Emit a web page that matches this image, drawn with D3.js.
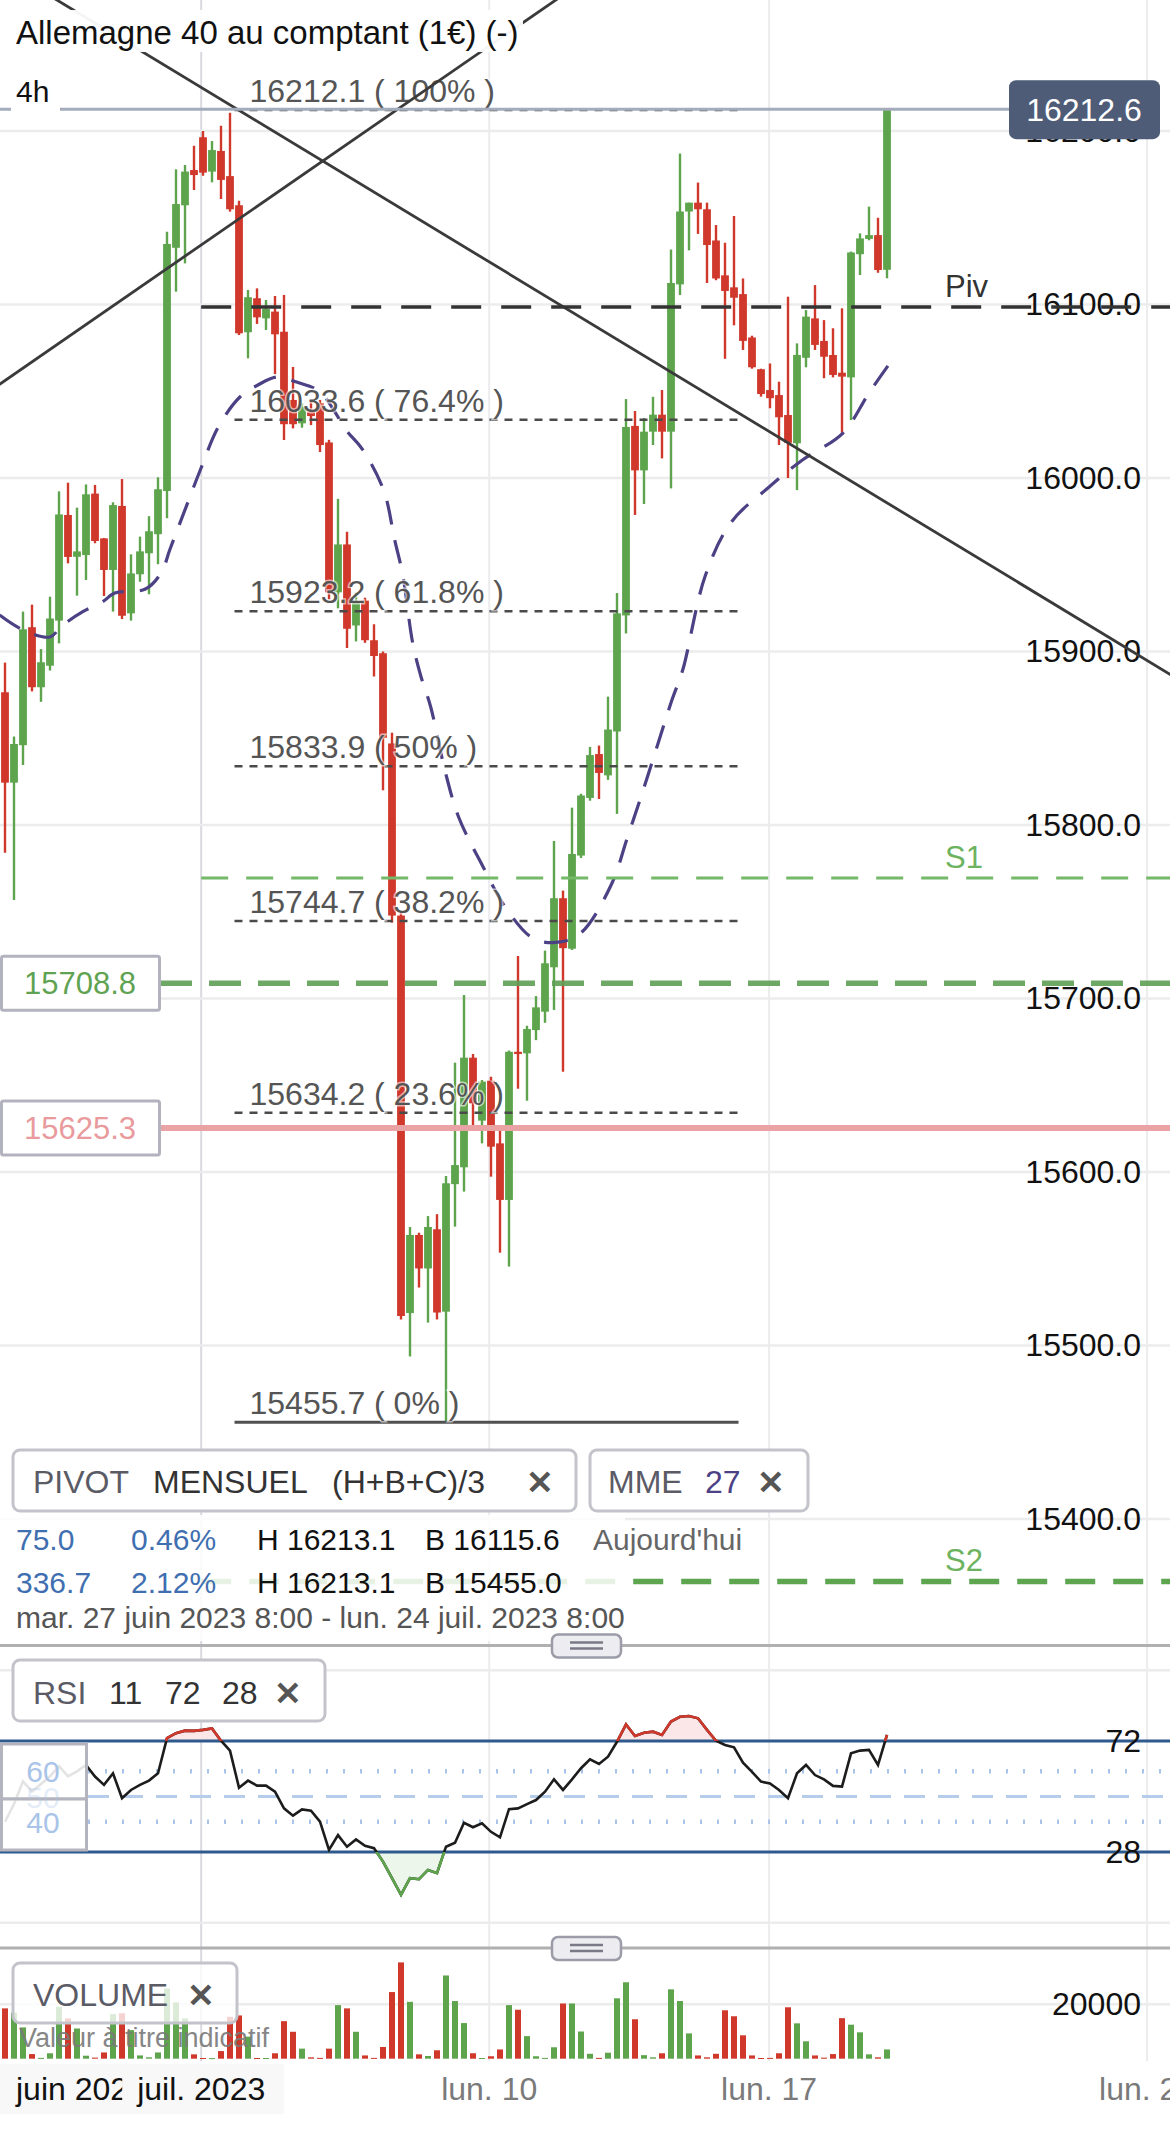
<!DOCTYPE html>
<html>
<head>
<meta charset="utf-8">
<script src="https://cdn.jsdelivr.net/npm/d3@7"></script>
<style>
  body { margin: 0; background: #fff; }
  svg { display: block; }
  text { font-family: "Liberation Sans", Arial, Helvetica, sans-serif; }
</style>
</head>
<body>
<svg id="chart" width="1170" height="2133"></svg>
<script>
// ---- data (bar index = one 4h candle) ----
const ohlc = [
  [15876.5,15893.6,15784.0,15824.4],[15824.4,15851.0,15756.8,15846.7],[15846.0,15923.0,15834.6,15912.8],
  [15914.0,15927.0,15877.0,15879.4],[15879.4,15901.4,15871.0,15893.8],[15891.8,15931.6,15889.0,15919.0],
  [15917.8,15992.3,15904.7,15979.0],[15978.7,15997.3,15950.8,15954.5],[15954.6,15982.9,15932.2,15957.7],
  [15955.6,15996.3,15941.2,15990.6],[15991.0,15996.0,15962.4,15963.7],[15965.2,15965.4,15932.0,15947.0],
  [15947.0,15986.0,15923.0,15984.4],[15983.9,15999.4,15918.7,15920.6],[15922.0,15956.0,15917.8,15945.0],
  [15944.5,15966.2,15940.2,15957.7],[15956.6,15978.0,15933.0,15969.3],[15967.6,16000.4,15950.3,15993.5],
  [15992.5,16142.0,15976.8,16134.9],[16132.7,16177.9,16107.4,16157.9],[16157.2,16180.4,16123.7,16176.6],
  [16177.5,16191.5,16166.0,16174.6],[16196.4,16200.0,16174.2,16176.0],[16176.6,16194.2,16170.4,16189.0],
  [16188.5,16203.0,16160.8,16171.8],[16174.0,16210.5,16153.5,16154.9],[16157.2,16159.8,16082.4,16083.4],
  [16084.0,16108.4,16069.0,16104.2],[16103.6,16109.3,16088.8,16092.6],[16092.0,16102.6,16085.3,16097.4],
  [16095.9,16104.9,16059.9,16082.8],[16084.3,16105.5,16021.9,16031.0],[16045.0,16064.0,16028.6,16031.0],
  [16031.5,16043.0,16029.0,16041.0],[16038.2,16045.0,16030.5,16035.7],[16043.0,16045.0,16015.0,16019.0],
  [16020.5,16022.0,15930.0,15934.1],[15934.1,15988.0,15924.9,15961.7],[15961.7,15969.0,15902.0,15913.1],
  [15915.0,15934.0,15905.8,15928.5],[15929.3,15931.0,15905.0,15906.5],[15906.5,15915.7,15885.6,15897.4],
  [15899.0,15900.0,15820.0,15850.3],[15847.0,15853.2,15743.7,15747.8],[15747.8,15750.0,15515.0,15517.0],
  [15518.7,15568.3,15493.7,15563.7],[15563.7,15565.0,15533.4,15544.4],[15544.4,15574.6,15513.2,15568.3],
  [15567.0,15575.7,15515.0,15519.0],[15519.5,15597.7,15455.7,15593.5],[15593.0,15663.0,15568.5,15604.0],
  [15602.7,15702.0,15588.7,15665.9],[15665.9,15668.0,15624.2,15639.6],[15629.6,15653.0,15616.5,15652.1],
  [15652.6,15654.9,15597.3,15614.6],[15616.5,15623.8,15553.5,15583.9],[15583.9,15670.0,15545.5,15669.3],
  [15669.3,15724.5,15648.0,15668.0],[15668.4,15684.3,15641.1,15682.4],[15681.8,15701.4,15676.0,15694.9],
  [15692.4,15727.6,15686.0,15720.3],[15718.0,15790.8,15693.4,15757.8],[15757.8,15762.2,15657.8,15729.0],
  [15728.7,15810.0,15728.0,15783.3],[15782.4,15818.0,15781.0,15817.0],[15815.6,15845.0,15814.0,15840.3],
  [15840.9,15845.8,15815.0,15830.0],[15828.6,15874.0,15826.0,15855.0],[15853.9,15933.7,15806.4,15922.0],
  [15920.8,16045.5,15910.4,16029.4],[16030.0,16038.6,15978.7,16004.4],[16004.4,16034.6,15985.0,16026.7],
  [16026.7,16046.8,16019.0,16036.5],[16036.5,16050.7,16011.3,16026.7],[16026.7,16131.7,15994.0,16112.4],
  [16111.6,16187.0,16105.5,16153.6],[16153.6,16158.7,16131.2,16158.7],[16158.7,16170.3,16140.7,16154.9],
  [16154.9,16158.7,16112.4,16134.3],[16136.9,16145.8,16114.0,16115.0],[16116.8,16135.6,16068.7,16107.8],
  [16109.9,16151.0,16088.0,16103.9],[16106.0,16115.0,16073.8,16079.0],[16081.0,16082.0,16063.0,16063.8],
  [16062.7,16063.0,16046.9,16048.4],[16050.7,16066.0,16040.2,16046.0],[16047.8,16055.5,16019.0,16035.0],
  [16036.3,16104.5,16000.0,16020.3],[16020.0,16077.6,15993.0,16070.9],[16069.3,16096.8,16063.8,16093.0],
  [16092.0,16111.2,16073.8,16076.7],[16079.0,16091.0,16057.5,16069.9],[16070.9,16086.3,16058.0,16059.4],
  [16060.7,16097.8,16026.1,16058.4],[16058.0,16130.5,16033.4,16130.0],[16129.0,16141.0,16117.0,16138.1],
  [16137.8,16156.4,16137.0,16140.0],[16140.0,16150.0,16118.3,16119.9],[16120.0,16212.6,16115.1,16212.6]
];

const volumes = [
  18500,16900,11500,1700,300,2000,19100,14800,11100,1100,400,2300,16400,16700,10500,1200,500,2300,
  25800,20700,14800,1600,250,200,2800,15400,15900,8100,250,250,2000,13800,9900,3700,500,300,3700,
  19700,18500,9900,1200,300,4300,24500,35400,20900,1600,1000,3100,30600,21200,13100,2000,250,900,
  3400,19700,18000,8300,900,300,4200,20300,20300,10000,1800,300,2200,22200,28100,14500,1300,500,
  2000,25500,21200,9300,1200,500,1800,17800,15600,8600,1200,250,300,2000,18900,13000,6400,1200,400,
  1700,14900,12500,9700,1600,500,3400
];

const rsiValues = [
  40,47,56,52,55,58,62,58,60,62.5,57.9,54.6,59.2,49.3,52.6,54.6,56.3,59.2,73.1,75.1,76.1,76,76.4,77,
  72.1,68.2,53.5,56.3,54.3,54.3,51.9,45.3,42.4,44.9,44.4,40,28.8,34.7,30.1,33,30.5,29.5,24.2,17.6,11,
  17.6,17.2,20.9,19.6,30.1,31.7,39.6,37.8,39.4,36,33.8,45,45.3,47,48.6,51.9,56.8,52.6,56.8,61.2,64.7,
  62.9,65.8,71.7,78.6,74,75.3,75.7,74.4,79.7,81.6,81.9,81,76.4,72.1,70.4,69.5,63.4,59.8,55.9,55.2,
  52.6,49.3,59.2,62.5,58.5,56.8,54.2,53.9,67.1,68.2,68.5,62.5,74.4
];

// MME 27, traced as [bar index, price]
const emaPoints = [
  [-0.6,15921],[2,15912.4],[5,15908.4],[6.3,15914.7],[8.6,15922.8],[10.8,15928.5],[12.2,15933.7],
  [15.6,15936],[17.4,15945.8],[18.3,15958.5],[20.2,15984.4],[21.7,16004.6],[23.7,16029.4],[26.1,16046.7],
  [28.1,16053.6],[30.2,16058.2],[32.4,16055.3],[35,16049.6],[38,16027],[39.7,16016.7],[42.1,15992.5],
  [43.3,15964.3],[44.2,15944],[45.3,15904.9],[46.2,15885.9],[47.3,15868],[48.9,15831.1],[50.4,15804.6],
  [52.9,15778.1],[55.8,15751],[58.8,15734.3],[61.7,15732.6],[64.1,15738.3],[67.4,15766],[69.1,15791.9],
  [70.8,15818.4],[72.4,15844.4],[74.1,15872],[75.3,15889.3],[77.8,15943.5],[80.7,15974.6],[84.9,15994.8],
  [88.6,16010.4],[93.1,16025.9],[96,16049],[98.1,16064.6]
];

const priceTicks = [15400, 15500, 15600, 15700, 15800, 15900, 16000, 16100, 16200];
const fibLevels = [16212.1, 16033.6, 15923.2, 15833.9, 15744.7, 15634.2, 15455.7];
const fibPercents = ["100%", "76.4%", "61.8%", "50%", "38.2%", "23.6%", "0%"];
const fibSpan = [25.5, 81.5];
const trendDown = [[15.6, 16244.6], [129.4, 15887.0]];
const trendUp = [[-0.56, 16054.2], [61.2, 16275.5]];
const pivotStart = 21.8;
const pivotLevels = [["Piv", 16098.6], ["S1", 15769.5], ["S2", 15364.0]];
const alertLevels = [15708.8, 15625.3];
const lastPrice = 16212.6;
const rsiBands = [72, 28];
const rsiGuides = [60, 50, 40];
const volTicks = [20000];
const timeTicks = [[21.8, "juil. 2023"], [53.8, "lun. 10"], [84.9, "lun. 17"], [126.9, "lun. 24"]];
const pivotRows = [
  ["75.0", "0.46%", "H 16213.1", "B 16115.6", "Aujourd'hui"],
  ["336.7", "2.12%", "H 16213.1", "B 15455.0"]
];
const dateRange = "mar. 27 juin 2023 8:00 - lun. 24 juil. 2023 8:00";

// ---- layout ----
const W = 1170;
const UP = "#5da44c", DOWN = "#d0382c";
const svg = d3.select("#chart");

const x = d3.scaleLinear().domain([0, 98]).range([5, 887]);
const y = d3.scaleLinear().domain([15500, 16000]).range([1345.5, 478]);
const yRsi = d3.scaleLinear().domain([28, 72]).range([1852, 1741]);
const yVol = d3.scaleLinear().domain([0, 20000]).range([2058.7, 2004.3]);

const defs = svg.append("defs");
defs.append("clipPath").attr("id", "priceClip").append("rect").attr("x", 0).attr("y", 0).attr("width", W).attr("height", 1644);
defs.append("clipPath").attr("id", "rsiHigh").append("rect").attr("x", 0).attr("y", 1650).attr("width", W).attr("height", yRsi(72) - 1650);
defs.append("clipPath").attr("id", "rsiLow").append("rect").attr("x", 0).attr("y", yRsi(28)).attr("width", W).attr("height", 1930 - yRsi(28));

// vertical grid through all panels
svg.append("g").selectAll("line").data(timeTicks).join("line")
  .attr("x1", d => x(d[0])).attr("x2", d => x(d[0]))
  .attr("y1", 0).attr("y2", 2133)
  .attr("stroke", (d, i) => i === 0 ? "#d9d9e0" : "#ececee").attr("stroke-width", 2);

// ===== price panel =====
const price = svg.append("g").attr("clip-path", "url(#priceClip)");

price.append("g").selectAll("line").data(priceTicks).join("line")
  .attr("x1", 0).attr("x2", W).attr("y1", d => y(d)).attr("y2", d => y(d))
  .attr("stroke", "#ececec").attr("stroke-width", 2.5);

const priceAxis = price.append("g").attr("transform", "translate(1141,0)")
  .call(d3.axisLeft(y).tickValues(priceTicks).tickFormat(d3.format(".1f")).tickSize(0).tickPadding(0));
priceAxis.select(".domain").remove();
priceAxis.selectAll("text").attr("font-size", 32).attr("fill", "#111").attr("font-family", "Liberation Sans, Arial, sans-serif");

// candles
const candle = price.append("g").selectAll("g").data(ohlc).join("g");
candle.append("line")
  .attr("x1", (d, i) => x(i)).attr("x2", (d, i) => x(i))
  .attr("y1", d => y(d[1])).attr("y2", d => y(d[2]))
  .attr("stroke", d => d[3] >= d[0] ? UP : DOWN).attr("stroke-width", 2.4);
candle.append("rect")
  .attr("x", (d, i) => x(i) - 3.9).attr("width", 7.8)
  .attr("y", d => y(Math.max(d[0], d[3])))
  .attr("height", d => Math.max(1.8, Math.abs(y(d[0]) - y(d[3]))))
  .attr("fill", d => d[3] >= d[0] ? UP : DOWN);

// MME 27
price.append("path").datum(emaPoints)
  .attr("d", d3.line().x(d => x(d[0])).y(d => y(d[1])).curve(d3.curveCatmullRom))
  .attr("fill", "none").attr("stroke", "#4d4185").attr("stroke-width", 3.2)
  .attr("stroke-dasharray", "24,16");

// fibonacci retracement
const fib = price.append("g");
fib.selectAll("line").data(fibLevels).join("line")
  .attr("x1", x(fibSpan[0])).attr("x2", x(fibSpan[1]))
  .attr("y1", d => y(d)).attr("y2", d => y(d))
  .attr("stroke", (d, i) => i === fibLevels.length - 1 ? "#505050" : "#4a4a4a")
  .attr("stroke-width", (d, i) => i === fibLevels.length - 1 ? 3 : 2.5)
  .attr("stroke-dasharray", (d, i) => i === fibLevels.length - 1 ? null : "8,7");
fib.selectAll("text").data(fibLevels).join("text")
  .attr("x", x(fibSpan[0]) + 15).attr("y", d => y(d) - 8)
  .attr("font-size", 32).attr("fill", "#555")
  .attr("stroke", "#fff").attr("stroke-width", 3).attr("stroke-opacity", 0.6).attr("paint-order", "stroke")
  .text((d, i) => `${d.toFixed(1)} ( ${fibPercents[i]} )`);

// trend lines, extended across the panel
function extend(pts) {
  const [[i1, p1], [i2, p2]] = pts;
  const k = (p2 - p1) / (i2 - i1);
  return [[-3, p1 + k * (-3 - i1)], [135, p1 + k * (135 - i1)]];
}
price.append("g").selectAll("path").data([trendDown, trendUp]).join("path")
  .attr("d", d => d3.line().x(p => x(p[0])).y(p => y(p[1]))(extend(d)))
  .attr("stroke", "#3a3a3a").attr("stroke-width", 2.8).attr("fill", "none");

// alert levels
price.append("line")
  .attr("x1", 160).attr("x2", W).attr("y1", y(alertLevels[0])).attr("y2", y(alertLevels[0]))
  .attr("stroke", "#5e9e54").attr("stroke-width", 5.5).attr("stroke-dasharray", "32,17").attr("stroke-opacity", 0.9);
price.append("line")
  .attr("x1", 160).attr("x2", W).attr("y1", y(alertLevels[1])).attr("y2", y(alertLevels[1]))
  .attr("stroke", "#e9a3a5").attr("stroke-width", 6);

// monthly pivot lines
const pivStyle = {
  Piv: { c: "#333", w: 3.5, dash: "30,20", t: "#333" },
  S1: { c: "#74b868", w: 3, dash: "27,18", t: "#6db35f" },
  S2: { c: "#5ea550", w: 5.5, dash: "30,18", t: "#6db35f" }
};
const piv = price.append("g");
piv.selectAll("line").data(pivotLevels).join("line")
  .attr("x1", x(pivotStart)).attr("x2", W).attr("y1", d => y(d[1])).attr("y2", d => y(d[1]))
  .attr("stroke", d => pivStyle[d[0]].c).attr("stroke-width", d => pivStyle[d[0]].w)
  .attr("stroke-dasharray", d => pivStyle[d[0]].dash);
piv.selectAll("text").data(pivotLevels).join("text")
  .attr("x", 945).attr("y", d => y(d[1]) - 10)
  .attr("font-size", 31).attr("fill", d => pivStyle[d[0]].t).text(d => d[0]);

// last price line
price.append("line").attr("x1", 0).attr("x2", 1010).attr("y1", y(lastPrice)).attr("y2", y(lastPrice))
  .attr("stroke", "#a4acbc").attr("stroke-width", 3);

// alert boxes at left
const boxColors = ["#5fa352", "#e99a9c"];
alertLevels.forEach((v, i) => {
  const cy = y(v);
  svg.append("rect").attr("x", 1.5).attr("y", cy - 27).attr("width", 158).attr("height", 54)
    .attr("fill", "#fff").attr("stroke", "#b3b3c0").attr("stroke-width", 3).attr("rx", 2);
  svg.append("text").attr("x", 80).attr("y", cy + 11).attr("text-anchor", "middle")
    .attr("font-size", 31).attr("fill", boxColors[i]).text(v.toFixed(1));
});

// last price label
const lp = y(lastPrice);
svg.append("rect").attr("x", 1009).attr("y", lp - 29).attr("width", 151).attr("height", 59).attr("rx", 7)
  .attr("fill", "#4e5c77");
svg.append("text").attr("x", 1084).attr("y", lp + 12).attr("text-anchor", "middle")
  .attr("font-size", 32).attr("fill", "#fff").text(lastPrice.toFixed(1));

// title and period
svg.append("rect").attr("x", 10).attr("y", 10).attr("width", 513).attr("height", 42).attr("fill", "#fff").attr("opacity", 0.95);
svg.append("text").attr("x", 16).attr("y", 44).attr("font-size", 33).attr("fill", "#111")
  .text("Allemagne 40 au comptant (1€) (-)");
svg.append("rect").attr("x", 11).attr("y", 76).attr("width", 49).attr("height", 38).attr("fill", "#fff");
svg.append("text").attr("x", 16).attr("y", 102).attr("font-size", 30).attr("fill", "#111").text("4h");

// ===== pivot / MME legend =====
svg.append("rect").attr("x", 0).attr("y", 1515).attr("width", 625).attr("height", 126).attr("fill", "#fff").attr("opacity", 0.85);

function legendBox(x0, x1, y0, y1, fill, op) {
  svg.append("rect").attr("x", x0).attr("y", y0).attr("width", x1 - x0).attr("height", y1 - y0)
    .attr("rx", 7).attr("fill", fill).attr("fill-opacity", op).attr("stroke", "#c3c3cb").attr("stroke-width", 3);
}
function label(tx, ty, str, size, color, extra) {
  const t = svg.append("text").attr("x", tx).attr("y", ty).attr("font-size", size).attr("fill", color).text(str);
  if (extra) extra(t);
  return t;
}
const cross = t => t.attr("font-family", "DejaVu Sans, sans-serif").attr("font-weight", "bold");

legendBox(13, 576, 1450, 1511, "#fff", 1);
label(33, 1493, "PIVOT", 32, "#5b5b66");
label(153, 1493, "MENSUEL", 32, "#333");
label(332, 1493, "(H+B+C)/3", 32, "#333");
label(526, 1494, "✕", 33, "#555", cross);
legendBox(590, 808, 1450, 1511, "#fff", 1);
label(608, 1493, "MME", 32, "#5b5b66");
label(705, 1493, "27", 32, "#4d4185");
label(757, 1494, "✕", 33, "#555", cross);

const colX = [16, 131, 257, 425, 593];
const colC = ["#3f6fb0", "#3f6fb0", "#111", "#111", "#666"];
pivotRows.forEach((row, r) => {
  row.forEach((s, c) => label(colX[c], r === 0 ? 1550 : 1593, s, 30, colC[c]));
});
label(16, 1628, dateRange, 30, "#555");

// ===== separators =====
function separator(sy) {
  svg.append("line").attr("x1", 0).attr("x2", W).attr("y1", sy).attr("y2", sy).attr("stroke", "#b0b0b0").attr("stroke-width", 3);
  svg.append("rect").attr("x", 552).attr("y", sy - 11).attr("width", 69).attr("height", 23).attr("rx", 6)
    .attr("fill", "#ececf1").attr("stroke", "#9c9ca8").attr("stroke-width", 2.5);
  [-3, 3].forEach(dy => svg.append("line").attr("x1", 570).attr("x2", 603).attr("y1", sy + dy).attr("y2", sy + dy)
    .attr("stroke", "#7a7a86").attr("stroke-width", 2.5));
}
separator(1645.5);
separator(1948);

// ===== RSI panel =====
const rsi = svg.append("g");
[100, 0].forEach(v => rsi.append("line").attr("x1", 0).attr("x2", W)
  .attr("y1", yRsi(v)).attr("y2", yRsi(v)).attr("stroke", "#ececec").attr("stroke-width", 2.5));
rsi.selectAll("line.guide").data(rsiGuides).join("line").attr("class", "guide")
  .attr("x1", 88).attr("x2", W).attr("y1", d => yRsi(d)).attr("y2", d => yRsi(d))
  .attr("stroke", d => d === 50 ? "#b5cdea" : "#a9c4e8")
  .attr("stroke-width", d => d === 50 ? 3.2 : 4.5)
  .attr("stroke-dasharray", d => d === 50 ? "21,13" : "2,15");

const rsiLine = d3.line().x((d, i) => x(i)).y(d => yRsi(d));
rsi.append("path").datum(rsiValues).attr("clip-path", "url(#rsiHigh)")
  .attr("d", d3.area().x((d, i) => x(i)).y0(yRsi(72)).y1(d => yRsi(d))).attr("fill", "#fbe7e7");
rsi.append("path").datum(rsiValues).attr("clip-path", "url(#rsiLow)")
  .attr("d", d3.area().x((d, i) => x(i)).y0(yRsi(28)).y1(d => yRsi(d))).attr("fill", "#edf6eb");

rsi.selectAll("line.band").data(rsiBands).join("line").attr("class", "band")
  .attr("x1", 0).attr("x2", W).attr("y1", d => yRsi(d)).attr("y2", d => yRsi(d))
  .attr("stroke", "#2e5a8e").attr("stroke-width", 3);

rsi.append("path").datum(rsiValues).attr("d", rsiLine).attr("fill", "none").attr("stroke", "#1c1c1c").attr("stroke-width", 2.6);
rsi.append("path").datum(rsiValues).attr("d", rsiLine).attr("clip-path", "url(#rsiHigh)")
  .attr("fill", "none").attr("stroke", DOWN).attr("stroke-width", 2.6);
rsi.append("path").datum(rsiValues).attr("d", rsiLine).attr("clip-path", "url(#rsiLow)")
  .attr("fill", "none").attr("stroke", UP).attr("stroke-width", 2.6);

const rsiAxis = rsi.append("g").attr("transform", "translate(1141,0)")
  .call(d3.axisLeft(yRsi).tickValues(rsiBands).tickSize(0).tickPadding(0));
rsiAxis.select(".domain").remove();
rsiAxis.selectAll("text").attr("font-size", 32).attr("fill", "#111").attr("font-family", "Liberation Sans, Arial, sans-serif");

// left scale box with 60 / 50 / 40
[[1744, 1799], [1799, 1850]].forEach(b => rsi.append("rect").attr("x", 1.5).attr("y", b[0]).attr("width", 85).attr("height", b[1] - b[0])
  .attr("fill", "#fff").attr("fill-opacity", 0.88).attr("stroke", "#b4b4be").attr("stroke-width", 3));
rsi.selectAll("text.g").data(rsiGuides).join("text").attr("class", "g")
  .attr("x", 43).attr("y", d => yRsi(d) + 11).attr("text-anchor", "middle").attr("font-size", 30)
  .attr("fill", "#a9c4e8").attr("opacity", d => d === 50 ? 0.3 : 1).text(d => d);

legendBox(13, 325, 1660, 1721, "#fff", 1);
label(33, 1704, "RSI", 32, "#5b5b66");
label(109, 1704, "11", 32, "#333");
label(165, 1704, "72", 32, "#333");
label(222, 1704, "28", 32, "#333");
label(274, 1705, "✕", 33, "#555", cross);

// ===== volume panel =====
const vol = svg.append("g");
vol.selectAll("line").data(volTicks).join("line")
  .attr("x1", 0).attr("x2", W).attr("y1", d => yVol(d)).attr("y2", d => yVol(d))
  .attr("stroke", "#ececec").attr("stroke-width", 2.5);
vol.selectAll("rect").data(volumes).join("rect")
  .attr("x", (d, i) => x(i) - 3).attr("width", 6)
  .attr("y", d => yVol(d)).attr("height", d => Math.max(1, yVol(0) - yVol(d)))
  .attr("fill", (d, i) => ohlc[i][3] >= ohlc[i][0] ? UP : DOWN);
const volAxis = vol.append("g").attr("transform", "translate(1141,0)")
  .call(d3.axisLeft(yVol).tickValues(volTicks).tickFormat(d3.format("d")).tickSize(0).tickPadding(0));
volAxis.select(".domain").remove();
volAxis.selectAll("text").attr("font-size", 32).attr("fill", "#111").attr("font-family", "Liberation Sans, Arial, sans-serif");

legendBox(13, 237, 1963, 2023, "#fff", 0.78);
label(33, 2006, "VOLUME", 32, "#5b5b66");
label(187, 2007, "✕", 33, "#555", cross);
label(19, 2047, "Valeur à titre indicatif", 27, "#7a7a7a", t => t.attr("opacity", 0.9));

// ===== time axis =====
svg.append("rect").attr("x", 0).attr("y", 2061).attr("width", W).attr("height", 72).attr("fill", "#fff");
svg.append("rect").attr("x", 0).attr("y", 2064).attr("width", 284).attr("height", 50).attr("fill", "#f8f8f8");
label(16, 2100, "juin 2023", 32, "#111");
svg.append("rect").attr("x", x(timeTicks[0][0]) - 79).attr("y", 2064).attr("width", 162).attr("height", 50).attr("fill", "#f8f8f8");
svg.append("g").selectAll("text").data(timeTicks).join("text")
  .attr("x", d => x(d[0])).attr("y", 2100).attr("text-anchor", "middle").attr("font-size", 32)
  .attr("fill", (d, i) => i === 0 ? "#111" : "#7a7a7a").text(d => d[1]);
</script>
</body>
</html>
